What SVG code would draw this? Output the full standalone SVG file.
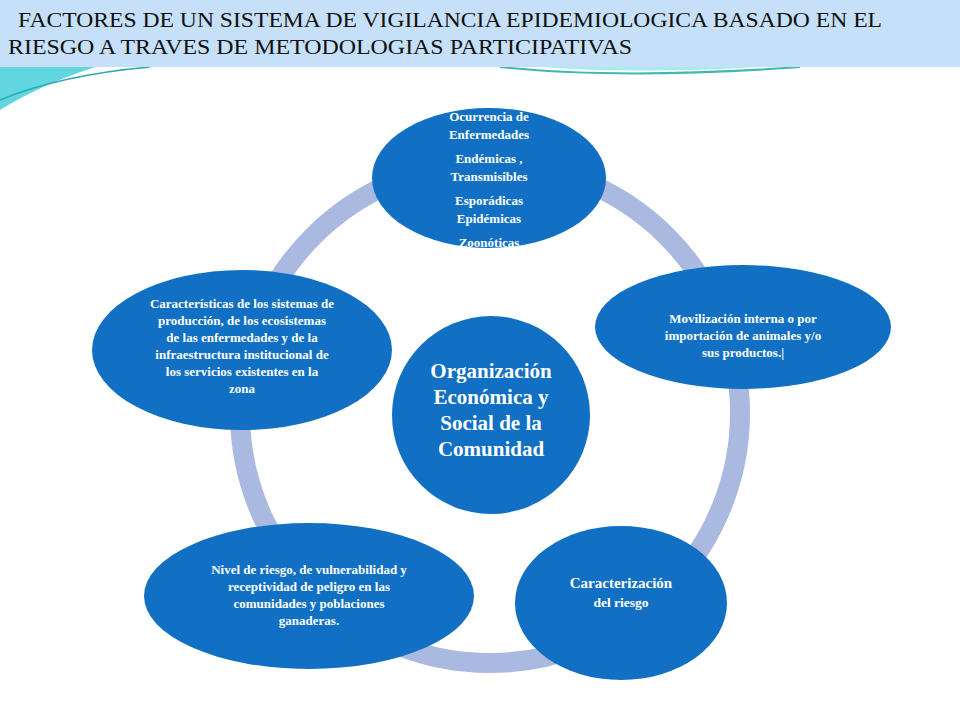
<svg xmlns="http://www.w3.org/2000/svg" width="960" height="720" viewBox="0 0 960 720">
<style>
.n{fill:#1170c4}
.t{font-family:"Liberation Serif",serif;fill:#fff;text-anchor:middle}
.s{font-size:13px;font-weight:bold}
.h{font-family:"Liberation Serif",serif;font-size:22px;fill:#111}
</style>
<rect width="960" height="720" fill="#fff"/>
<path d="M0,67 L95,67 Q40,85 0,110 Z" fill="#5fd6e0"/>
<path d="M0,100 Q60,75 150,67" fill="none" stroke="#2aa8b0" stroke-width="1.5"/>
<path d="M500,67 Q620,80 800,67" fill="none" stroke="#3fb7b4" stroke-width="2"/>
<path d="M540,67 Q640,74 760,67 Z" fill="#a7ece8"/>
<rect x="0" y="0" width="960" height="67" fill="#c5e0f8"/>
<text class="h" x="18" y="27" textLength="864" lengthAdjust="spacingAndGlyphs">FACTORES DE UN SISTEMA DE VIGILANCIA EPIDEMIOLOGICA BASADO EN EL</text>
<text class="h" x="8" y="54" textLength="624" lengthAdjust="spacingAndGlyphs">RIESGO A TRAVES DE METODOLOGIAS PARTICIPATIVAS</text>
<g id="connectors">
<circle cx="490" cy="413" r="250" fill="none" stroke="#a9b9e0" stroke-width="20"/>
</g>
<g id="n1"><ellipse class="n" cx="489" cy="178" rx="117" ry="70"/>
<text class="t s"><tspan x="489" y="121">Ocurrencia de</tspan><tspan x="489" y="139">Enfermedades</tspan><tspan x="489" y="163">Endémicas ,</tspan><tspan x="489" y="181">Transmisibles</tspan><tspan x="489" y="205">Esporádicas</tspan><tspan x="489" y="223">Epidémicas</tspan><tspan x="489" y="247">Zoonóticas</tspan></text></g>
<g id="n2"><ellipse class="n" cx="743" cy="327" rx="148" ry="62"/>
<text class="t s"><tspan x="743" y="323">Movilización interna o por</tspan><tspan x="743" y="340">importación de animales y/o</tspan><tspan x="743" y="357">sus productos.|</tspan></text></g>
<g id="n3"><ellipse class="n" cx="621" cy="603" rx="106" ry="77"/>
<text class="t" style="font-size:15px;font-weight:bold"><tspan x="621" y="588">Caracterización</tspan><tspan x="621" y="607" style="font-size:13.5px">del riesgo</tspan></text></g>
<g id="n4"><ellipse class="n" cx="309" cy="596" rx="165" ry="73"/>
<text class="t s"><tspan x="309" y="574">Nivel de riesgo, de vulnerabilidad y</tspan><tspan x="309" y="591">receptividad de peligro en las</tspan><tspan x="309" y="608">comunidades  y poblaciones</tspan><tspan x="309" y="625">ganaderas.</tspan></text></g>
<g id="n5"><ellipse class="n" cx="242" cy="350" rx="150" ry="80"/>
<text class="t s"><tspan x="242" y="308">Características de los sistemas de</tspan><tspan x="242" y="325">producción, de los ecosistemas</tspan><tspan x="242" y="342">de las enfermedades y de la</tspan><tspan x="242" y="359">infraestructura institucional de</tspan><tspan x="242" y="376">los servicios existentes en la</tspan><tspan x="242" y="393">zona</tspan></text></g>
<g id="center"><circle class="n" cx="491" cy="415" r="99"/>
<text class="t" style="font-size:21px;font-weight:bold"><tspan x="491" y="378">Organización</tspan><tspan x="491" y="404">Económica y</tspan><tspan x="491" y="430">Social de la</tspan><tspan x="491" y="456">Comunidad</tspan></text></g>
</svg>
